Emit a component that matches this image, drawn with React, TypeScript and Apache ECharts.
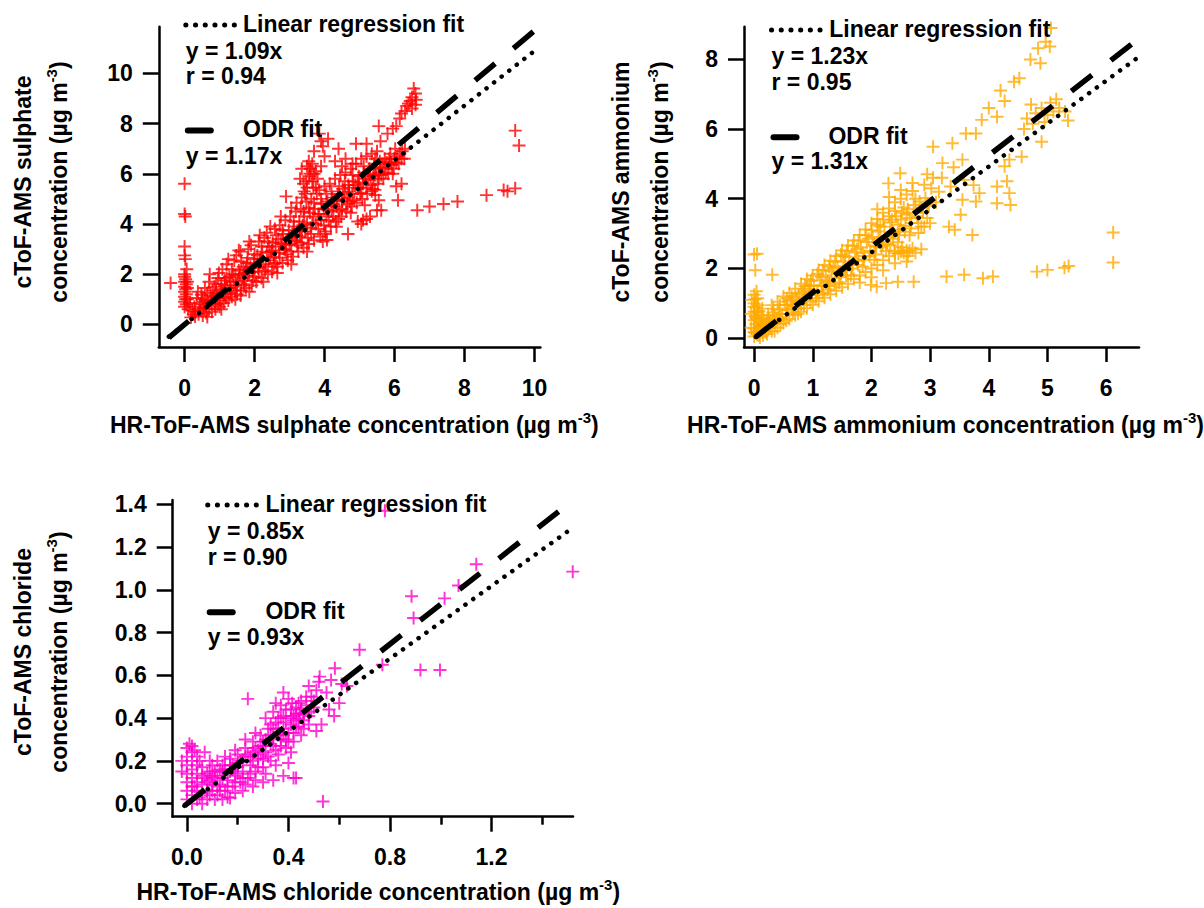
import React, { useEffect, useRef } from 'react';
import * as echarts from 'echarts';

const FONT = "'Liberation Sans', Arial, Helvetica, sans-serif";
const PLUS = 'path://M5.1,0H6.9V5.1H12V6.9H6.9V12H5.1V6.9H0V5.1H5.1Z';

// ---------------- Sulphate ----------------
const sulphateXTicks = [0, 2, 4, 6, 8, 10];
const sulphateYTicks = [0, 2, 4, 6, 8, 10];
const sulphateBand: number[][] = [
  [0.18,0.28],[0.22,0.55],[0.15,0.85],[0.3,0.32],[0.28,0.7],[0.35,1.05],[0.4,0.4],[0.45,0.8],[0.38,1.3],[0.52,0.35],
  [0.55,0.65],[0.5,1.0],[0.58,1.45],[0.62,0.45],[0.68,0.85],[0.65,1.25],[0.7,1.7],[0.78,0.5],[0.75,0.95],[0.8,1.35],
  [0.72,2.0],[0.88,0.6],[0.92,1.05],[0.85,1.5],[0.95,1.85],[1.0,0.7],[1.02,1.2],[1.05,1.6],[0.98,2.05],[1.12,0.85],
  [1.1,1.3],[1.15,1.75],[1.08,2.2],[1.25,0.95],[1.22,1.45],[1.28,1.9],[1.2,2.4],[1.35,1.1],[1.4,1.55],[1.38,2.0],
  [1.42,2.55],[1.5,1.2],[1.52,1.7],[1.55,2.15],[1.48,2.75],[1.62,1.35],[1.65,1.85],[1.68,2.3],[1.6,2.9],[1.75,1.45],
  [1.8,1.95],[1.78,2.45],[1.82,3.0],[1.92,1.55],[1.95,2.1],[1.98,2.6],[1.9,3.15],[2.05,1.7],[2.1,2.25],[2.08,2.75],
  [2.12,3.3],[2.2,1.85],[2.25,2.4],[2.22,2.9],[2.28,3.45],[2.38,2.0],[2.4,2.55],[2.42,3.1],[2.35,3.65],[2.5,2.1],
  [2.55,2.7],[2.52,3.25],[2.58,3.8],[2.65,2.3],[2.7,2.85],[2.68,3.4],[2.72,3.95],[2.8,2.45],[2.85,3.0],[2.82,3.6],
  [2.88,4.15],[2.95,2.55],[3.0,3.2],[2.98,3.75],[3.02,4.3],[3.1,2.7],[3.15,3.35],[3.12,3.9],[3.18,4.5],[3.25,2.9],
  [3.3,3.5],[3.28,4.1],[3.32,4.6],[3.35,5.05],[3.4,3.05],[3.45,3.7],[3.42,4.3],[3.48,4.9],[3.5,5.45],[3.55,3.2],
  [3.6,3.85],[3.58,4.45],[3.62,5.0],[3.65,5.7],[3.6,6.2],[3.7,3.35],[3.75,4.0],[3.72,4.6],[3.78,5.2],[3.8,5.8],
  [3.88,3.5],[3.9,4.15],[3.92,4.8],[3.85,5.35],[4.02,3.7],[4.05,4.3],[4.08,4.9],[4.0,5.5],[4.18,3.9],[4.2,4.5],
  [4.22,5.05],[4.15,5.6],[4.32,4.1],[4.35,4.7],[4.38,5.2],[4.3,5.8],[4.48,4.3],[4.5,4.9],[4.52,5.4],[4.45,5.95],
  [4.62,4.5],[4.65,5.05],[4.68,5.55],[4.6,6.05],[4.78,4.7],[4.8,5.2],[4.82,5.7],[4.75,6.2],[4.92,4.85],[4.95,5.4],
  [4.98,5.9],[4.9,6.4],[5.08,5.0],[5.1,5.6],[5.12,6.05],[5.05,6.6],[5.22,5.2],[5.25,5.75],[5.28,6.2],[5.2,6.7],
  [5.38,5.4],[5.4,5.9],[5.42,6.4],[5.35,6.8],[5.52,5.6],[5.55,6.05],[5.58,6.5],[5.5,6.9],[5.68,5.8],[5.7,6.2],
  [5.72,6.6],[5.82,6.0],[5.85,6.4],[5.88,6.8],[5.98,6.2],[6.0,6.6],[6.02,7.0],[6.12,6.4],[6.15,6.8],[6.28,6.6],
  [6.3,7.0],[0.6,0.7],[1.3,1.45],[1.85,2.05],[2.45,2.65],[2.9,3.15],[3.2,3.55],[3.65,4.05],[4.1,4.55],[4.55,5.0],
  [5.0,5.45],[5.45,5.95],[5.9,6.45],[2.0,2.4],[1.7,1.75],[2.6,3.1],[3.05,3.5],[0.9,1.25],[1.15,1.55],[1.45,1.95],
  [1.75,2.2],[2.15,2.6],[2.35,2.85],[2.75,3.25],[3.35,3.8],[3.85,4.4],[4.25,4.8],[4.7,5.3],[5.15,5.8],[5.6,6.25],
  [0.3,0.5],[0.45,0.55],[0.55,0.9],[0.7,0.6],[0.82,1.1],[0.95,0.8],[1.05,1.4],[1.18,1.05],[1.32,1.7],[1.45,1.35],
  [1.58,2.0],[1.7,1.6],[1.88,2.3],[2.0,1.9],[2.18,2.6],[2.3,2.15],[2.48,2.9],[2.6,2.45],[2.78,3.2],[2.92,2.8],
  [3.08,3.6],[3.22,3.15],[3.38,3.95],[3.52,3.45],[3.68,4.3],[3.82,3.8],[3.98,4.6],[4.12,4.15],[4.28,4.95],[4.42,4.55],
  [4.58,5.25],[4.72,4.9],[4.88,5.55],[5.02,5.2],[5.18,5.9],[5.32,5.55],[5.48,6.2],[5.62,5.95],[5.78,6.45],[5.92,6.35],
  [6.08,6.7],[6.22,6.9],[3.45,5.2],[3.55,5.9],[3.68,5.45],[3.2,4.85],[3.05,4.65],[2.75,4.3],[2.45,3.9],[2.15,3.55],
  [1.85,3.3],[1.55,2.95],[1.25,2.6],[4.4,4.2],[4.75,4.45],[5.15,4.75],[5.45,5.15],[3.95,3.3],[3.5,2.9],[3.05,2.4],
  [2.65,2.05],[2.25,1.7],[1.85,1.3],[1.45,1.0],[1.05,0.6],[0.65,0.3],
  [0.25,0.4],[0.42,0.62],[0.48,1.18],[0.6,0.95],[0.74,1.15],[0.86,0.78],[0.9,1.62],[1.02,0.95],[1.15,1.2],[1.2,1.85],
  [1.32,1.25],[1.35,2.2],[1.48,1.55],[1.6,1.15],[1.62,2.5],[1.72,2.05],[1.8,2.65],[1.95,1.75],[2.0,2.8],[2.12,2.1],
  [2.2,3.1],[2.32,2.3],[2.38,3.3],[2.5,2.95],[2.55,2.4],[2.62,3.55],[2.72,2.65],[2.8,3.75],[2.88,2.95],[2.98,3.45],
  [3.05,2.9],[3.12,4.1],[3.2,3.3],[3.28,3.8],[3.35,3.25],[3.4,4.5],[3.5,4.0],[3.55,4.65],[3.62,3.6],[3.7,4.85],
  [3.75,5.45],[3.82,4.4],[3.9,5.0],[3.98,3.95],[4.05,5.2],[4.1,4.7],[4.2,5.3],[4.25,4.3],[4.35,4.95],[4.42,5.5],
  [4.5,4.6],[4.58,5.7],[4.65,4.8],[4.7,5.45],[4.8,5.95],[4.85,4.95],[4.95,5.65],[5.05,5.25],[5.12,6.3],[5.2,5.45],
  [5.3,6.0],[5.35,5.3],[5.45,6.6],[5.55,5.8],[5.65,6.4],[5.75,6.05],[5.85,6.6],[5.95,6.0],[6.05,6.45],[6.2,6.6],
  [3.58,6.0],[3.48,5.7],[3.42,5.3],[3.65,6.4],[3.75,6.1],
];
const sulphateOutliers: number[][] = [
  [0.0,5.6],[0.0,4.4],[0.02,4.3],[0.0,3.1],[0.0,2.75],[0.02,2.6],[0.0,2.0],[0.03,1.8],[0.0,1.7],[0.05,1.6],
  [0.0,1.5],[0.03,1.4],[0.0,1.3],[0.05,1.2],[0.0,1.1],[0.03,1.0],[0.0,0.9],[0.05,0.8],[0.0,0.7],[0.08,1.45],
  [0.08,1.0],[-0.4,1.65],[0.0,1.9],[0.08,1.7],[0.1,0.6],[0.06,2.2],
  [6.55,9.4],[6.6,9.2],[6.5,9.05],[6.45,8.9],[6.62,8.95],[6.35,8.7],[6.3,8.5],[6.2,8.4],[6.15,8.2],[6.05,7.9],
  [5.95,7.8],[6.4,8.8],[6.5,8.6],[6.6,8.75],[5.8,7.6],[5.55,7.9],[5.2,7.2],[5.6,7.3],
  [3.85,7.6],[3.9,7.3],[4.1,7.4],[3.95,7.1],[3.7,6.9],[3.55,6.5],[3.35,6.2],[3.5,6.3],[3.7,6.0],[3.9,6.3],
  [4.0,6.7],[3.4,5.6],[3.3,5.8],[4.6,6.6],[4.3,6.5],[4.8,6.4],[4.5,6.3],[4.9,7.2],[2.9,5.1],[4.4,7.0],
  [4.67,3.6],[4.07,3.36],[4.95,4.1],[5.1,4.15],[5.2,4.2],[5.5,4.55],[5.55,4.95],[6.05,5.5],[6.2,5.6],[6.1,4.95],
  [6.65,4.55],[7.0,4.7],[7.4,4.8],[7.8,4.9],[8.63,5.15],[9.12,5.35],[9.45,5.42],[9.23,5.3],[10.22,5.82],[9.45,7.72],
  [9.56,7.13],[5.44,5.36],[5.62,4.55],[4.34,3.89],[4.03,3.6],[5.05,4.0],[5.3,4.3],
];
const sulphateLinearFit: number[][] = [[-0.45, -0.49], [10.05, 10.95]];
const sulphateOdrFit: number[][] = [[-0.45, -0.53], [9.98, 11.68]];

// ---------------- Ammonium ----------------
const ammoniumXTicks = [0, 1, 2, 3, 4, 5, 6];
const ammoniumYTicks = [0, 2, 4, 6, 8];
const ammoniumBand: number[][] = [
  [0.1,0.02],[0.12,0.22],[0.1,0.45],[0.08,0.78],[0.15,0.08],[0.18,0.32],[0.16,0.58],[0.22,0.12],[0.2,0.38],[0.24,0.66],
  [0.3,0.2],[0.28,0.46],[0.32,0.74],[0.3,0.95],[0.4,0.3],[0.38,0.56],[0.42,0.82],[0.4,1.05],[0.5,0.44],[0.48,0.7],
  [0.52,0.96],[0.5,1.2],[0.6,0.55],[0.58,0.82],[0.62,1.06],[0.6,1.3],[0.7,0.66],[0.68,0.92],[0.72,1.16],[0.7,1.42],
  [0.8,0.76],[0.78,1.02],[0.82,1.3],[0.8,1.56],[0.9,0.86],[0.88,1.16],[0.92,1.42],[0.9,1.7],[1.0,0.96],[0.98,1.26],
  [1.02,1.52],[1.0,1.8],[1.1,1.06],[1.08,1.36],[1.12,1.66],[1.1,1.96],[1.2,1.16],[1.18,1.5],[1.22,1.8],[1.2,2.1],
  [1.3,1.26],[1.28,1.6],[1.32,1.92],[1.3,2.22],[1.4,1.36],[1.38,1.72],[1.42,2.06],[1.4,2.36],[1.5,1.46],[1.48,1.86],
  [1.52,2.2],[1.5,2.52],[1.6,1.56],[1.58,1.96],[1.62,2.32],[1.6,2.66],[1.7,1.7],[1.68,2.1],[1.72,2.46],[1.7,2.8],
  [1.8,1.8],[1.78,2.22],[1.82,2.6],[1.8,2.96],[1.9,1.9],[1.88,2.36],[1.92,2.76],[1.9,3.12],[2.0,2.0],[1.98,2.5],
  [2.02,2.9],[2.0,3.3],[2.1,2.1],[2.08,2.62],[2.12,3.06],[2.1,3.42],[2.2,2.24],[2.18,2.76],[2.22,3.2],[2.2,3.6],
  [2.3,2.36],[2.28,2.9],[2.32,3.32],[2.3,3.72],[2.4,2.44],[2.38,3.02],[2.42,3.5],[2.4,3.9],[2.5,2.48],[2.48,3.12],
  [2.52,3.6],[2.5,4.0],[2.6,2.52],[2.58,3.22],[2.62,3.7],[2.6,4.12],[2.7,2.58],[2.68,3.3],[2.72,3.82],[2.7,4.22],
  [2.8,3.02],[2.78,3.5],[2.82,3.92],[2.9,3.2],[2.88,3.62],[2.92,4.02],[2.9,4.4],[3.0,3.3],[2.98,3.8],[3.02,4.3],
  [0.25,0.3],[0.55,0.7],[0.85,1.1],[1.15,1.5],[1.45,1.9],[1.75,2.25],[2.05,2.65],[2.35,3.05],[2.65,3.45],[2.95,3.85],
  [0.35,0.45],[0.65,0.85],[0.95,1.25],[1.25,1.65],[1.55,2.05],[1.85,2.45],[2.15,2.85],[2.45,3.25],[2.75,3.6],
  [0.15,0.4],[0.25,0.55],[0.35,0.65],[0.45,0.6],[0.55,0.95],[0.65,1.1],[0.75,0.85],[0.85,1.35],[0.95,1.5],[1.05,1.15],
  [1.15,1.75],[1.25,1.4],[1.35,2.0],[1.45,1.6],[1.55,2.35],[1.65,1.8],[1.75,2.55],[1.85,2.05],[1.95,2.85],[2.05,2.25],
  [2.15,3.2],[2.25,2.5],[2.35,3.4],[2.45,2.75],[2.55,3.75],[2.65,2.95],[2.75,4.0],[2.85,3.2],[2.95,3.45],[2.1,3.7],
  [2.3,4.05],[2.5,4.25],[2.7,4.45],[2.2,1.95],[2.0,1.75],[1.8,1.6],[2.4,2.15],[2.6,2.2],
  [0.05,0.1],[0.12,0.35],[0.2,0.2],[0.22,0.5],[0.28,0.33],[0.35,0.2],[0.33,0.85],[0.45,0.4],[0.44,0.95],[0.55,0.5],
  [0.56,1.15],[0.66,0.75],[0.64,1.2],[0.75,0.7],[0.76,1.25],[0.85,0.95],[0.87,1.5],[0.96,1.05],[0.97,1.65],[1.06,1.25],
  [1.08,1.85],[1.17,1.3],[1.17,1.95],[1.27,1.5],[1.28,2.05],[1.37,1.55],[1.38,2.2],[1.47,1.75],[1.48,2.4],[1.57,1.8],
  [1.58,2.5],[1.67,2.0],[1.68,2.65],[1.77,2.1],[1.78,2.8],[1.87,2.25],[1.9,2.95],[1.97,2.35],[2.0,3.1],[2.07,2.4],
  [2.1,3.25],[2.17,2.6],[2.2,3.4],[2.27,2.7],[2.3,3.5],[2.37,2.85],[2.4,3.65],[2.47,2.95],[2.5,3.4],[2.57,3.05],
  [2.6,3.55],[2.67,3.15],[2.8,3.3],[2.85,3.75],[0.0,0.18],[0.03,0.6],[0.0,0.9],[0.05,0.75],[0.08,0.5],[0.1,0.3],
];
const ammoniumOutliers: number[][] = [
  [0.0,0.05],[0.02,0.15],[0.0,0.28],[0.03,0.4],[0.0,0.52],[0.02,0.64],[0.0,0.76],[0.04,0.88],[0.0,1.0],[0.02,1.12],
  [0.0,1.25],[0.04,1.35],[0.06,0.2],[0.05,0.55],[0.07,0.95],[0.06,1.15],[-0.05,0.3],[-0.05,0.7],[-0.04,1.1],[0.08,0.08],
  [0.12,0.65],[0.14,0.85],[0.0,2.4],[0.05,2.42],[0.02,1.95],[0.31,1.82],
  [5.06,8.89],[4.97,8.5],[4.84,8.31],[5.04,8.36],[4.71,7.99],[4.88,7.88],[4.52,7.45],[4.43,7.35],[4.2,7.1],[4.27,6.8],
  [4.0,6.6],[4.14,6.35],[3.88,6.26],[3.78,5.87],[3.61,5.87],[3.38,5.59],[3.05,5.49],[2.49,4.73],[2.29,4.44],[3.21,5.02],
  [3.55,5.12],[4.72,6.7],[4.9,6.6],[5.05,6.75],[5.15,6.85],[5.2,6.6],[4.8,6.45],[5.0,6.4],[4.65,6.3],[5.3,6.5],
  [5.35,6.24],[4.9,5.63],[4.56,5.2],[4.35,5.12],[4.27,4.93],[4.31,4.5],[4.14,4.35],[4.35,4.16],[4.14,3.87],[4.37,3.82],
  [3.74,4.39],[3.84,4.16],[3.58,4.54],[3.35,4.35],[3.78,3.92],[3.52,3.54],[3.32,3.2],[3.42,3.11],[3.72,2.96],[3.55,3.97],
  [3.1,3.9],[3.2,4.6],[3.4,4.9],[3.05,4.6],[3.15,4.2],[2.95,4.7],[4.6,6.0],[4.75,6.15],[5.1,6.5],[4.95,6.2],
  [1.99,1.53],[2.09,1.48],[2.25,1.58],[2.45,1.62],[2.72,1.62],[3.28,1.77],[3.58,1.82],[3.9,1.72],[4.07,1.77],[4.82,1.91],
  [5.0,1.96],[5.29,2.02],[5.36,2.07],[6.12,2.17],[6.12,3.03],[6.58,2.74],
  [2.32,2.66],[2.39,2.51],[2.52,2.61],[2.65,2.51],[2.62,2.36],[2.46,2.42],[2.85,2.55],[2.19,2.66],[2.55,2.45],[2.75,2.45],
];
const ammoniumLinearFit: number[][] = [[0.03, 0.04], [6.6, 8.12]];
const ammoniumOdrFit: number[][] = [[0.03, 0.04], [6.58, 8.62]];

// ---------------- Chloride ----------------
const chlorideXTicks = [0, 0.4, 0.8, 1.2];
const chlorideXMinorTicks = [0.2, 0.6, 1.0, 1.4];
const chlorideYTicks = [0, 0.2, 0.4, 0.6, 0.8, 1.0, 1.2, 1.4];
const chlorideBand: number[][] = [
  [0.08,0.02],[0.1,0.06],[0.09,0.11],[0.11,0.15],[0.12,0.04],[0.13,0.09],[0.12,0.13],[0.14,0.18],[0.15,0.06],[0.16,0.11],
  [0.15,0.16],[0.17,0.21],[0.18,0.08],[0.19,0.13],[0.18,0.18],[0.2,0.23],[0.21,0.1],[0.22,0.15],[0.21,0.2],[0.23,0.26],
  [0.24,0.12],[0.25,0.18],[0.24,0.23],[0.26,0.29],[0.27,0.15],[0.28,0.21],[0.27,0.26],[0.29,0.32],[0.3,0.17],[0.31,0.24],
  [0.3,0.29],[0.32,0.35],[0.33,0.2],[0.34,0.27],[0.33,0.32],[0.35,0.38],[0.34,0.43],[0.36,0.23],[0.37,0.3],[0.36,0.35],
  [0.38,0.41],[0.37,0.46],[0.39,0.26],[0.4,0.33],[0.39,0.38],[0.41,0.44],[0.4,0.49],[0.42,0.29],[0.43,0.36],[0.42,0.41],
  [0.44,0.47],[0.45,0.32],[0.46,0.39],[0.45,0.44],[0.47,0.5],[0.48,0.37],[0.49,0.43],[0.5,0.48],[0.51,0.53],
  [0.1,0.09],[0.14,0.12],[0.18,0.16],[0.22,0.2],[0.26,0.24],[0.3,0.27],[0.34,0.31],[0.38,0.35],[0.42,0.39],[0.46,0.42],
  [0.2,0.14],[0.28,0.25],[0.36,0.32],[0.44,0.4],
  [0.11,0.02],[0.13,0.16],[0.16,0.03],[0.17,0.15],[0.19,0.05],[0.2,0.19],[0.23,0.09],[0.25,0.22],[0.27,0.11],[0.29,0.27],
  [0.31,0.14],[0.33,0.37],[0.35,0.18],[0.37,0.4],[0.39,0.3],[0.41,0.37],[0.43,0.45],[0.47,0.46],[0.49,0.5],[0.35,0.47],
  [0.31,0.4],[0.27,0.33],[0.23,0.3],[0.19,0.25],[0.15,0.22],[0.08,0.1],[0.09,0.2],[0.07,0.24],
  [0.09,0.04],[0.11,0.12],[0.13,0.06],[0.14,0.15],[0.16,0.08],[0.17,0.18],[0.19,0.1],[0.2,0.17],[0.22,0.12],[0.23,0.22],
  [0.25,0.14],[0.26,0.2],[0.28,0.17],[0.29,0.23],[0.3,0.21],[0.31,0.3],[0.32,0.22],[0.33,0.28],[0.34,0.35],[0.35,0.25],
  [0.36,0.4],[0.37,0.27],[0.38,0.32],[0.39,0.44],[0.4,0.29],[0.41,0.4],[0.42,0.33],[0.43,0.42],[0.44,0.36],[0.45,0.48],
  [0.46,0.35],[0.48,0.41],[0.5,0.45],[0.05,0.2],[0.07,0.12],[0.09,0.15],[0.03,0.08],[0.05,0.03],[0.1,0.13],[0.12,0.08],
];
const chlorideOutliers: number[][] = [
  [-0.02,0.2],[-0.02,0.15],[0.0,0.02],[0.0,0.06],[0.0,0.1],[0.0,0.14],[0.0,0.18],[0.0,0.22],[0.0,0.26],[0.01,0.28],
  [0.02,0.0],[0.02,0.04],[0.02,0.08],[0.02,0.12],[0.02,0.16],[0.02,0.2],[0.02,0.24],[0.02,0.27],[0.04,0.02],[0.04,0.06],
  [0.04,0.1],[0.04,0.14],[0.04,0.18],[0.04,0.22],[0.06,0.0],[0.06,0.05],[0.06,0.09],[0.06,0.13],[0.06,0.17],[0.08,0.06],
  [0.08,0.14],[0.1,0.18],[0.12,0.2],[0.03,0.25],
  [1.14,1.12],[1.07,1.02],[0.885,0.97],[1.015,0.96],[0.893,0.868],[0.92,0.625],[0.997,0.625],[0.68,0.72],[0.77,0.65],[1.52,1.085],
  [0.78,1.37],[0.536,0.01],[0.583,0.633],[0.523,0.594],[0.568,0.578],[0.61,0.56],[0.6,0.47],[0.56,0.44],[0.58,0.41],[0.53,0.37],
  [0.51,0.34],[0.24,0.49],[0.38,0.52],[0.415,0.47],[0.445,0.42],[0.34,0.11],[0.38,0.13],[0.42,0.12],[0.41,0.24],[0.4,0.19],
  [0.43,0.12],[0.17,0.027],[0.14,0.02],[0.22,0.06],[0.26,0.08],[0.3,0.1],[0.55,0.52],[0.48,0.55],[0.52,0.57],[0.63,0.55],
];
const chlorideLinearFit: number[][] = [[-0.01, -0.01], [1.52, 1.29]];
const chlorideOdrFit: number[][] = [[-0.01, -0.01], [1.49, 1.39]];

// ---------------- Texts ----------------
const sulphateLegend = ['y = 1.09x', 'r = 0.94', 'y = 1.17x'];
const ammoniumLegend = ['y = 1.23x', 'r = 0.95', 'y = 1.31x'];
const chlorideLegend = ['y = 0.85x', 'r = 0.90', 'y = 0.93x'];

const FS = 23;
const txt = { fill: '#000', fontSize: FS, fontWeight: 'bold', fontFamily: FONT };

function richText(x: number, y: number, main: string, rotate: boolean) {
  return {
    type: 'text', x, y, rotation: rotate ? Math.PI / 2 : 0, z: 20,
    style: {
      text: `{a|${main} (µg m}{s|-3}{a|)}`,
      align: rotate ? 'center' : 'left', verticalAlign: 'middle',
      rich: {
        a: { ...txt, lineHeight: 30 },
        s: { fill: '#000', fontSize: 15, fontWeight: 'bold', fontFamily: FONT, lineHeight: 15, verticalAlign: 'top' },
      },
    },
  };
}
function plainText(x: number, y: number, s: string, rotate = false) {
  return {
    type: 'text', x, y, rotation: rotate ? Math.PI / 2 : 0, z: 20,
    style: { ...txt, text: s, align: rotate ? 'center' : 'left', verticalAlign: 'middle' },
  };
}
function legendBlock(dx: number, tx: number, odrX: number, vals: string[], ys: number[]) {
  return [
    { type: 'line', z: 20, shape: { x1: dx, y1: ys[0] + 1, x2: dx + 49, y2: ys[0] + 1 },
      style: { stroke: '#000', lineWidth: 5, lineDash: [0.1, 9.6], lineCap: 'round' } },
    plainText(tx, ys[0], 'Linear regression fit'),
    plainText(dx, ys[1], vals[0]),
    plainText(dx, ys[2], vals[1]),
    { type: 'line', z: 20, shape: { x1: dx + 2, y1: ys[3] + 1.5, x2: dx + 25, y2: ys[3] + 1.5 },
      style: { stroke: '#000', lineWidth: 6, lineCap: 'round' } },
    plainText(odrX, ys[3], 'ODR fit'),
    plainText(dx, ys[4], vals[2]),
  ];
}

function axis(gridIndex: number, min: number, max: number, ticks: number[], dec: number, margin: number, len: number) {
  return {
    type: 'value', gridIndex, min, max,
    axisLine: { show: true, onZero: false, lineStyle: { color: '#000', width: 2.5 } },
    axisTick: { show: true, inside: false, length: len, customValues: ticks, lineStyle: { color: '#000', width: 2.5 } },
    axisLabel: {
      show: true, customValues: ticks, margin, color: '#000', fontSize: FS, fontWeight: 'bold', fontFamily: FONT,
      lineHeight: 23, formatter: (v: number) => v.toFixed(dec),
    },
    splitLine: { show: false },
  };
}

function scatter(xi: number, yi: number, data: number[][], color: string) {
  return {
    type: 'scatter', xAxisIndex: xi, yAxisIndex: yi, data, symbol: PLUS, symbolSize: 13,
    itemStyle: { color, opacity: 0.8 }, silent: true, z: 2,
  };
}
function fitLine(xi: number, yi: number, data: number[][], dotted: boolean) {
  return {
    type: 'line', xAxisIndex: xi, yAxisIndex: yi, data, showSymbol: false, symbol: 'none', silent: true, z: 5, clip: false,
    lineStyle: dotted
      ? { color: '#000', width: 4.5, type: [0.1, 9.5], cap: 'round' }
      : { color: '#000', width: 5.5, type: [26, 24], cap: 'butt' },
  };
}

export default function App() {
  const ref = useRef<HTMLDivElement>(null);
  useEffect(() => {
    if (!ref.current) return;
    const chart = echarts.init(ref.current, null, { renderer: 'svg' });
    const RED = '#ff0000';
    const ORANGE = '#ffaa00';
    const MAGENTA = '#ff00cc';
    const option: any = {
      animation: false,
      backgroundColor: '#fff',
      grid: [
        { left: 158.8, top: 26.7, width: 381.6, height: 320.3 },
        { left: 744, top: 26.7, width: 395, height: 320.3 },
        { left: 172.7, top: 500, width: 400.3, height: 316.7 },
      ],
      xAxis: [
        { ...axis(0, -0.737, 10.17, sulphateXTicks, 0, 29, 15), position: 'bottom' },
        { ...axis(1, -0.172, 6.56, ammoniumXTicks, 0, 29, 15), position: 'bottom' },
        { ...axis(2, -0.056, 1.521, chlorideXTicks, 1, 29, 15), position: 'bottom' },
        {
          type: 'value', gridIndex: 2, min: -0.056, max: 1.521, position: 'bottom', offset: 0,
          axisLine: { show: false, onZero: false },
          axisTick: { show: true, inside: false, length: 8, customValues: chlorideXMinorTicks, lineStyle: { color: '#000', width: 2.5 } },
          axisLabel: { show: false }, splitLine: { show: false },
        },
      ],
      yAxis: [
        axis(0, -0.9, 11.86, sulphateYTicks, 0, 26, 16),
        axis(1, -0.25, 8.93, ammoniumYTicks, 0, 26, 16),
        axis(2, -0.061, 1.42, chlorideYTicks, 1, 26, 16),
      ],
      series: [
        scatter(0, 0, sulphateBand, RED),
        scatter(0, 0, sulphateOutliers, RED),
        scatter(1, 1, ammoniumBand, ORANGE),
        scatter(1, 1, ammoniumOutliers, ORANGE),
        scatter(2, 2, chlorideBand, MAGENTA),
        scatter(2, 2, chlorideOutliers, MAGENTA),
        fitLine(0, 0, sulphateOdrFit, false),
        fitLine(0, 0, sulphateLinearFit, true),
        fitLine(1, 1, ammoniumOdrFit, false),
        fitLine(1, 1, ammoniumLinearFit, true),
        fitLine(2, 2, chlorideOdrFit, false),
        fitLine(2, 2, chlorideLinearFit, true),
      ],
      graphic: [
        ...legendBlock(185.8, 243, 243, sulphateLegend, [24.1, 50.7, 75.7, 129.1, 155.7]),
        ...legendBlock(771.5, 829.2, 828.4, ammoniumLegend, [29.1, 55.7, 81.7, 135.7, 160.7]),
        ...legendBlock(207.7, 265.4, 265.4, chlorideLegend, [504.1, 530.7, 557.4, 610.7, 637.4]),
        plainText(23.4, 182, 'cToF-AMS sulphate', true),
        richText(59.4, 182, 'concentration', true),
        plainText(621.4, 182, 'cToF-AMS ammonium', true),
        richText(660.2, 182, 'concentration', true),
        plainText(23.4, 652, 'cToF-AMS chloride', true),
        richText(59.4, 652, 'concentration', true),
        richText(110, 425.4, 'HR-ToF-AMS sulphate concentration', false),
        richText(687.1, 425.4, 'HR-ToF-AMS ammonium concentration', false),
        richText(136.5, 892, 'HR-ToF-AMS chloride concentration', false),
      ],
    };
    chart.setOption(option);
    return () => chart.dispose();
  }, []);
  return <div ref={ref} style={{ position: 'absolute', left: 0, top: 0, width: 1204, height: 908 }} />;
}
